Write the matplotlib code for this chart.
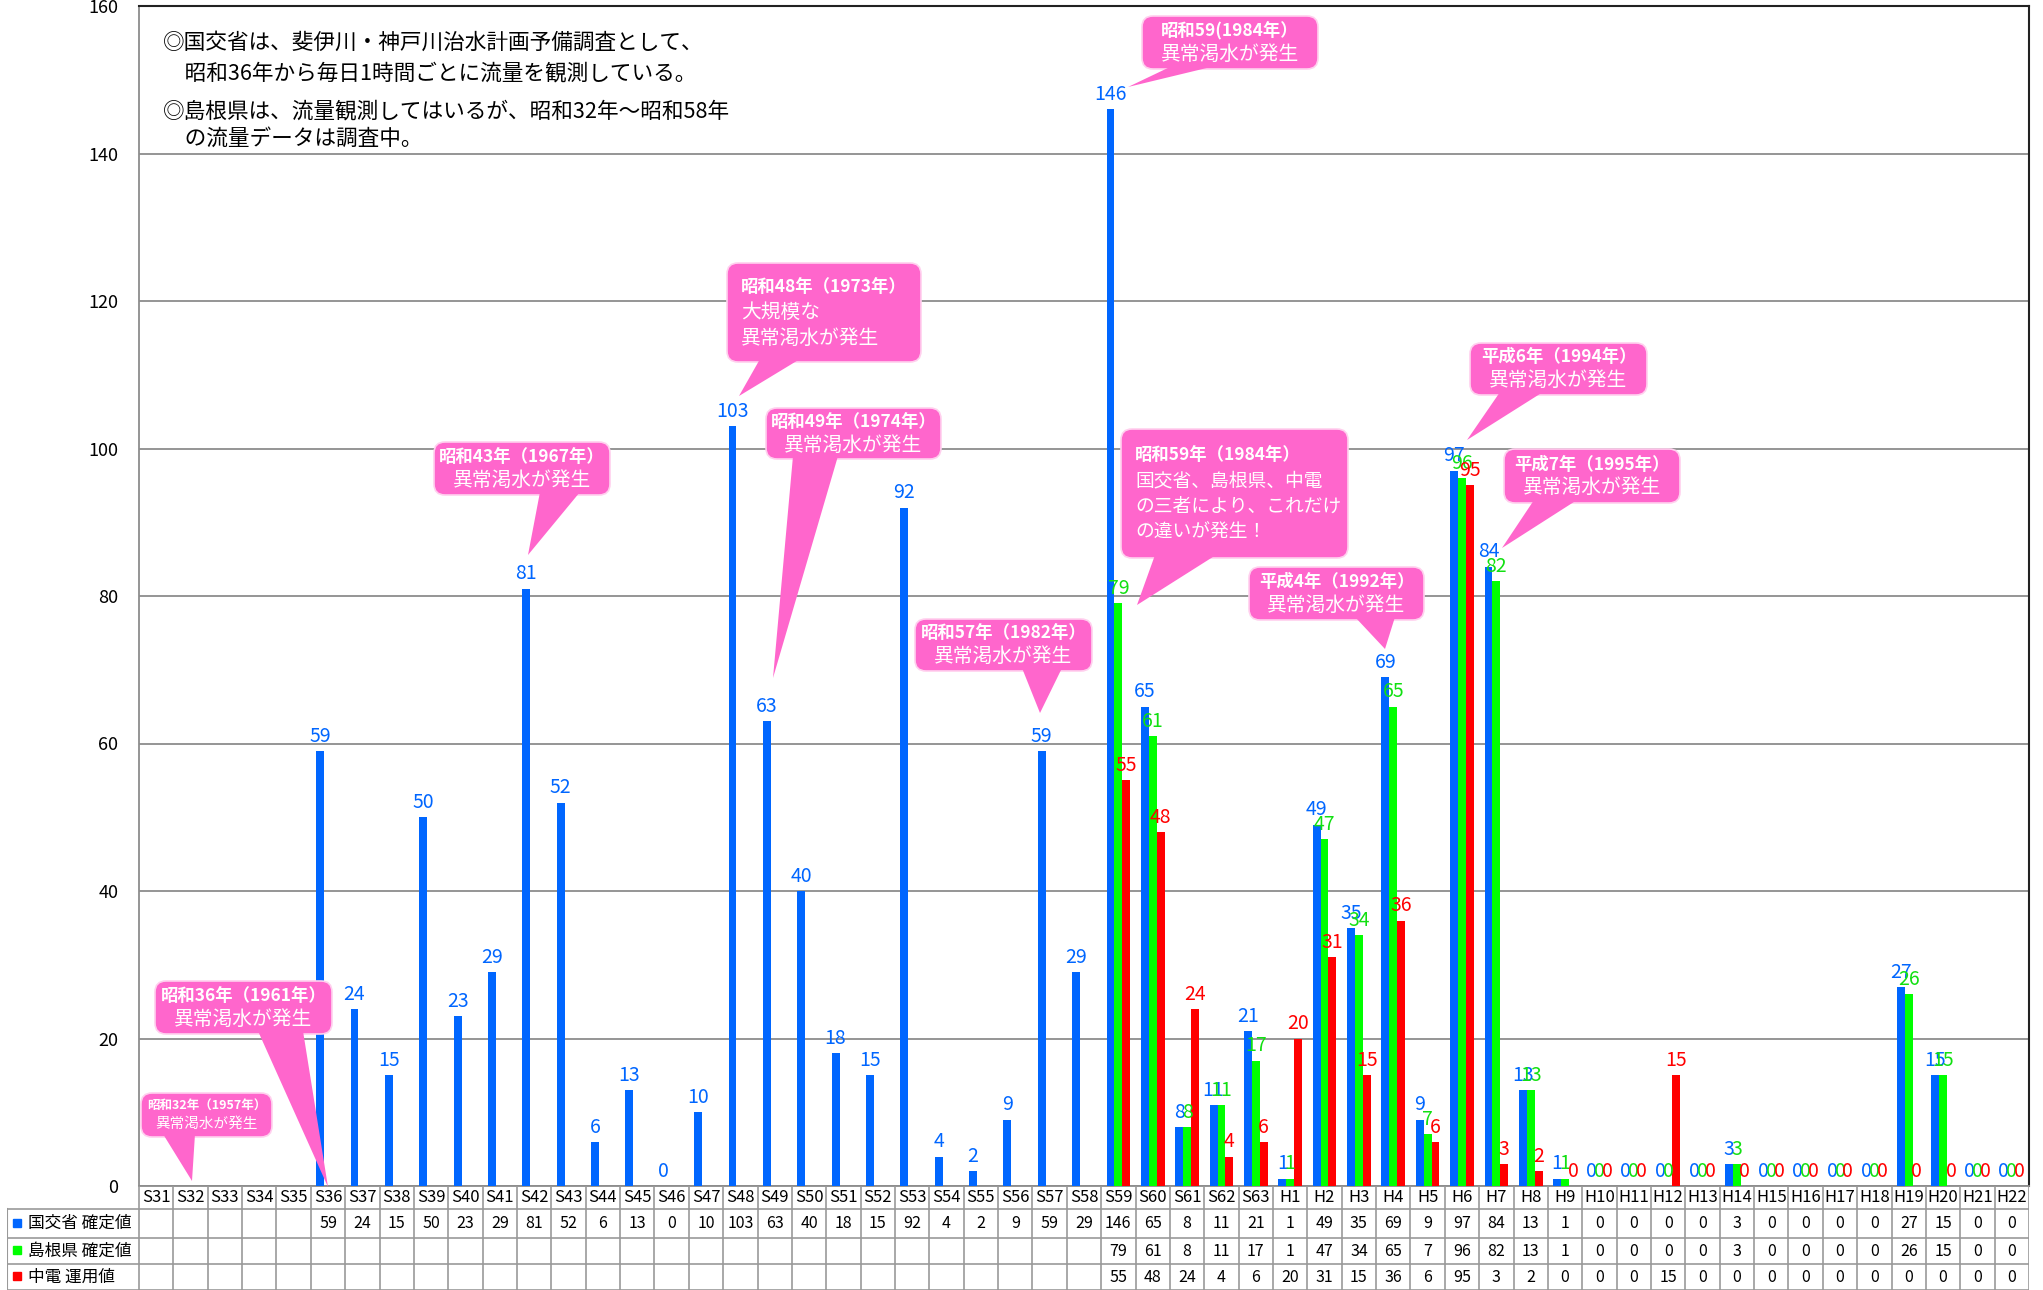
import matplotlib.pyplot as plt
from matplotlib.patches import FancyBboxPatch, Polygon
from matplotlib.transforms import Affine2D

plt.rcParams['font.family'] = ['Noto Sans CJK JP', 'DejaVu Sans']

# data
years = ['S%d' % i for i in range(31, 64)] + ['H%d' % i for i in range(1, 23)]
mlit = [None] * 5 + [59, 24, 15, 50, 23, 29, 81, 52, 6, 13, 0, 10, 103, 63, 40, 18, 15, 92, 4, 2, 9, 59, 29,
                     146, 65, 8, 11, 21,
                     1, 49, 35, 69, 9, 97, 84, 13, 1, 0, 0, 0, 0, 3, 0, 0, 0, 0, 27, 15, 0, 0]
shimane = [None] * 28 + [79, 61, 8, 11, 17,
                         1, 47, 34, 65, 7, 96, 82, 13, 1, 0, 0, 0, 0, 3, 0, 0, 0, 0, 26, 15, 0, 0]
chuden = [None] * 28 + [55, 48, 24, 4, 6,
                        20, 31, 15, 36, 6, 95, 3, 2, 0, 0, 0, 15, 0, 0, 0, 0, 0, 0, 0, 0, 0, 0]
series_names = ['国交省 確定値', '島根県 確定値', '中電 運用値']
bar_colors = ['#0066FF', '#00FF00', '#FF0000']
label_colors = ['#0066FF', '#11E011', '#FF0000']
yticks = [0, 20, 40, 60, 80, 100, 120, 140, 160]

W, H = 2043, 1290
fig = plt.figure(figsize=(W / 100, H / 100), dpi=100)
L, R, TOP, BOT = 139, 2029, 6, 1186
ax = fig.add_axes([L / W, (H - BOT) / H, (R - L) / W, (BOT - TOP) / H])

n = len(years)
bw = 0.23
offsets = [-0.23, 0.0, 0.23]
for s, vals in enumerate([mlit, shimane, chuden]):
    xs = [i + offsets[s] for i, v in enumerate(vals) if v is not None]
    hs = [v for v in vals if v is not None]
    ax.bar(xs, hs, width=bw, color=bar_colors[s], zorder=3, linewidth=0)
    for x, h in zip(xs, hs):
        ax.annotate(str(h), (x, h), xytext=(0, 3), textcoords='offset points',
                    ha='center', va='bottom', fontsize=14, color=label_colors[s], zorder=4)

ax.set_xlim(-0.5, n - 0.5)
ax.set_ylim(0, 160)
ax.set_yticks(yticks)
ax.tick_params(axis='y', length=0, pad=15, labelsize=13)
ax.set_xticks([])
ax.grid(axis='y', color='#8c8c8c', linewidth=1.3, zorder=0)
for sp in ['left', 'bottom']:
    ax.spines[sp].set_color('#8c8c8c')
    ax.spines[sp].set_linewidth(1.3)
for sp in ['top', 'right']:
    ax.spines[sp].set_color('#222222')
    ax.spines[sp].set_linewidth(1.5)

# data table under the chart
cw = (R - L) / n
x_left = -0.5 - (L - 7) / cw
tax = fig.add_axes([7 / W, 0, (R - 7) / W, (H - BOT) / H])
tax.set_xlim(x_left, n - 0.5)
tax.set_ylim(0, H - BOT)
tax.axis('off')
row_edges = [104, 81, 52, 26, 0]
gc = '#999999'
for y in row_edges[1:]:
    tax.plot([x_left, n - 0.5], [y, y], color=gc, lw=1.2)
for k in range(n + 1):
    tax.plot([k - 0.5, k - 0.5], [0, 104], color=gc, lw=1.2)
tax.plot([x_left, x_left], [0, 81], color=gc, lw=1.5)
for i, yr in enumerate(years):
    tax.text(i, 92.5, yr, ha='center', va='center', fontsize=12)
for s, vals in enumerate([mlit, shimane, chuden]):
    yc = (row_edges[s + 1] + row_edges[s + 2]) / 2
    tax.plot([x_left + 0.3], [yc + 1], marker='s', ms=6, color=bar_colors[s], lw=0)
    tax.text(x_left + 0.62, yc, series_names[s], ha='left', va='center', fontsize=12)
    for i, v in enumerate(vals):
        if v is not None:
            tax.text(i, yc, str(v), ha='center', va='center', fontsize=11.5)

# pixel transform (top-left origin) for notes and callouts
T = Affine2D().scale(1 / W, -1 / H).translate(0, 1) + fig.transFigure

notes = [(163, 43, '◎国交省は、斐伊川・神戸川治水計画予備調査として、'),
         (163, 73, '\u3000昭和36年から毎日1時間ごとに流量を観測している。'),
         (163, 111, '◎島根県は、流量観測してはいるが、昭和32年～昭和58年'),
         (163, 139, '\u3000の流量データは調査中。')]
for x, y, t in notes:
    fig.text(x, y, t, transform=T, ha='left', va='center', fontsize=15.6)

pink = '#FF66CC'


def callout(box, base, tip, lines, fs=12.5, fs2=14.2, lh=23, align='center'):
    x0, y0, x1, y1 = box
    fig.patches.append(FancyBboxPatch((x0, y0), x1 - x0, y1 - y0,
                                      boxstyle='round,pad=0,rounding_size=11',
                                      transform=T, fc=pink, ec='#ffd0ee', lw=1.2, zorder=5))
    fig.patches.append(Polygon([(base[0], y1 - 3), (base[1], y1 - 3), tip], closed=True,
                               transform=T, fc=pink, ec='none', zorder=6))
    yc = (y0 + y1) / 2 - lh * (len(lines) - 1) / 2
    for j, (t, bold) in enumerate(lines):
        size = fs if bold else fs2
        weight = 'bold' if bold else 'normal'
        if align == 'center':
            fig.text((x0 + x1) / 2, yc + j * lh, t, transform=T, ha='center', va='center',
                     fontsize=size, color='white', fontweight=weight, zorder=7)
        else:
            fig.text(x0 + 14, yc + j * lh, t, transform=T, ha='left', va='center',
                     fontsize=size, color='white', fontweight=weight, zorder=7)


msg = '異常渇水が発生'
callout((141, 1093, 272, 1137), (163, 195), (192, 1181),
        [('昭和32年（1957年）', True), (msg, False)], fs=9, fs2=10.5, lh=18)
callout((155, 981, 332, 1034), (258, 303), (328, 1187),
        [('昭和36年（1961年）', True), (msg, False)])
callout((434, 442, 610, 495), (540, 580), (528, 555),
        [('昭和43年（1967年）', True), (msg, False)])
callout((727, 263, 921, 362), (760, 800), (739, 396),
        [('昭和48年（1973年）', True), ('大規模な', False), (msg, False)], align='left', lh=26)
callout((766, 408, 941, 459), (793, 838), (773, 678),
        [('昭和49年（1974年）', True), (msg, False)])
callout((915, 619, 1092, 671), (1022, 1062), (1040, 713),
        [('昭和57年（1982年）', True), (msg, False)])
callout((1142, 16, 1318, 69), (1172, 1215), (1128, 87),
        [('昭和59(1984年）', True), (msg, False)])
callout((1121, 429, 1348, 558), (1155, 1216), (1137, 605),
        [('昭和59年（1984年）', True), ('国交省、島根県、中電', False),
         ('の三者により、これだけ', False), ('の違いが発生！', False)], fs2=13.5, align='left', lh=26)
callout((1249, 567, 1424, 620), (1355, 1395), (1385, 649),
        [('平成4年（1992年）', True), (msg, False)])
callout((1470, 343, 1647, 395), (1500, 1543), (1467, 440),
        [('平成6年（1994年）', True), (msg, False)])
callout((1504, 449, 1680, 503), (1534, 1577), (1502, 548),
        [('平成7年（1995年）', True), (msg, False)])

fig.savefig('out.png', dpi=100)
